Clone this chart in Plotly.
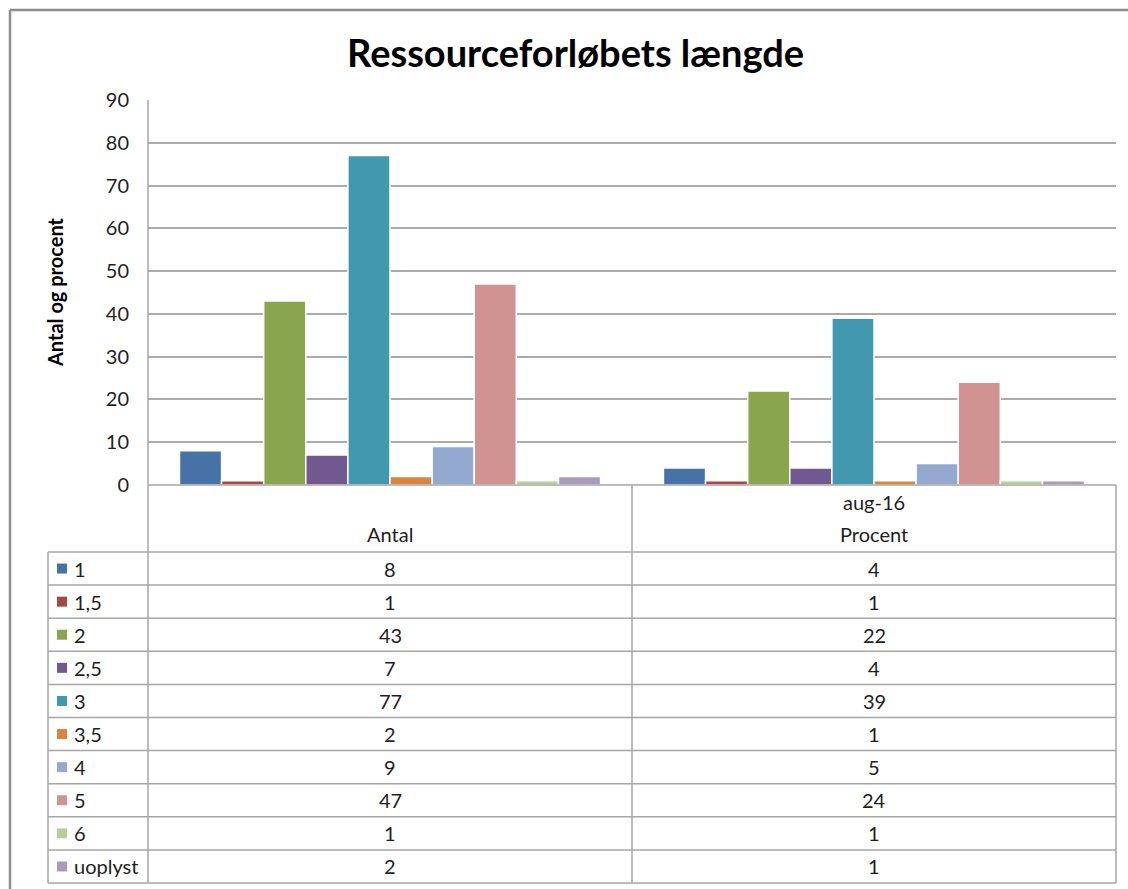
import plotly.graph_objects as go

# ---- data ----
title = "Ressourceforløbets længde"
y_title = "Antal og procent"
categories = ["Antal", "Procent"]
group_label = ["", "aug-16"]
series_names = ["1", "1,5", "2", "2,5", "3", "3,5", "4", "5", "6", "uoplyst"]
antal = [8, 1, 43, 7, 77, 2, 9, 47, 1, 2]
procent = [4, 1, 22, 4, 39, 1, 5, 24, 1, 1]
y_ticks = [0, 10, 20, 30, 40, 50, 60, 70, 80, 90]

colors = ["#4672A8", "#AA4643", "#89A54E", "#71588F", "#4198AF",
          "#DB843D", "#93A9CF", "#D19392", "#B9CD96", "#A99BBD"]

W, H = 1128, 889
FONT = "Lato, 'Open Sans', sans-serif"
TXT = "#1E1E1E"


def px(x):
    return x / W


def py(y):
    return 1 - y / H


# layout geometry (pixels)
PL, PR, PT, PB = 148, 1116, 100, 485
TL = 48
COL_MID = 632
ROW0 = 552
ROW_H = 33.1
TBOT = ROW0 + ROW_H * len(series_names)

fig = go.Figure()
for i, name in enumerate(series_names):
    fig.add_trace(go.Bar(
        x=categories, y=[antal[i], procent[i]], name=name,
        marker=dict(color=colors[i], line=dict(color="white", width=1.5)),
        showlegend=False,
    ))

shapes = []
line_col = "#A6A6A6"
# chart frame
shapes.append(dict(type="line", xref="paper", yref="paper", x0=px(10), x1=1.01, y0=py(10), y1=py(10),
                   line=dict(color="#8C8C8C", width=2.5)))
shapes.append(dict(type="line", xref="paper", yref="paper", x0=px(10), x1=px(10), y0=py(10), y1=-0.01,
                   line=dict(color="#8C8C8C", width=2.5)))


def hline(y, x0, x1):
    shapes.append(dict(type="line", xref="paper", yref="paper", x0=px(x0), x1=px(x1), y0=py(y), y1=py(y),
                       line=dict(color=line_col, width=1.5)))


def vline(x, y0, y1):
    shapes.append(dict(type="line", xref="paper", yref="paper", x0=px(x), x1=px(x), y0=py(y0), y1=py(y1),
                       line=dict(color=line_col, width=1.5)))


hline(PB, PL, PR)
vline(PL, PT, TBOT)
vline(COL_MID, PB, TBOT)
vline(PR, PB, TBOT)
vline(TL, ROW0, TBOT)
for r in range(len(series_names) + 1):
    hline(ROW0 + r * ROW_H, TL, PR)


def note(text, x, y, size, xanchor="center", bold=False, angle=0, color=TXT):
    return dict(text=("<b>" + text + "</b>") if bold else text, x=px(x), y=py(y),
                xref="paper", yref="paper", xanchor=xanchor, yanchor="middle",
                showarrow=False, textangle=angle, font=dict(size=size, color=color, family=FONT))


annotations = [
    note(title, 575, 52, 38, bold=True, color="black"),
    note(y_title, 55, 292, 20, bold=True, angle=-90, color="black"),
]

col_centers = [(PL + COL_MID) / 2, (COL_MID + PR) / 2]
for c, (cat, grp) in enumerate(zip(categories, group_label)):
    if grp:
        annotations.append(note(grp, col_centers[c], 502, 20))
    annotations.append(note(cat, col_centers[c], 534, 20))

for r, name in enumerate(series_names):
    yc = ROW0 + r * ROW_H + ROW_H / 2
    shapes.append(dict(type="rect", xref="paper", yref="paper", x0=px(57), x1=px(67), y0=py(yc - 5), y1=py(yc + 5),
                       fillcolor=colors[r], line=dict(width=0)))
    annotations.append(note(name, 72, yc, 20, xanchor="left"))
    for c, vals in enumerate([antal, procent]):
        annotations.append(note(str(vals[r]), col_centers[c], yc, 20))

fig.update_layout(
    width=W, height=H,
    margin=dict(l=0, r=0, t=0, b=0, autoexpand=False),
    paper_bgcolor="white", plot_bgcolor="white",
    barmode="group", bargap=0.13, bargroupgap=0,
    xaxis=dict(domain=[px(PL), px(PR)], showticklabels=False, showgrid=False, zeroline=False,
               showline=False, ticks=""),
    yaxis=dict(domain=[py(PB), py(PT)], range=[0, 90], tickvals=y_ticks, showgrid=True,
               gridcolor="#ABABAB", gridwidth=1.5, zeroline=False, showline=False,
               tickfont=dict(size=20, color=TXT, family=FONT), ticks="", ticklabelstandoff=18),
    shapes=shapes,
    annotations=annotations,
    font=dict(family=FONT),
)

fig.write_html("out.html", config={"displayModeBar": False},
               post_script="document.body.style.margin='0';document.body.style.overflow='hidden';")
